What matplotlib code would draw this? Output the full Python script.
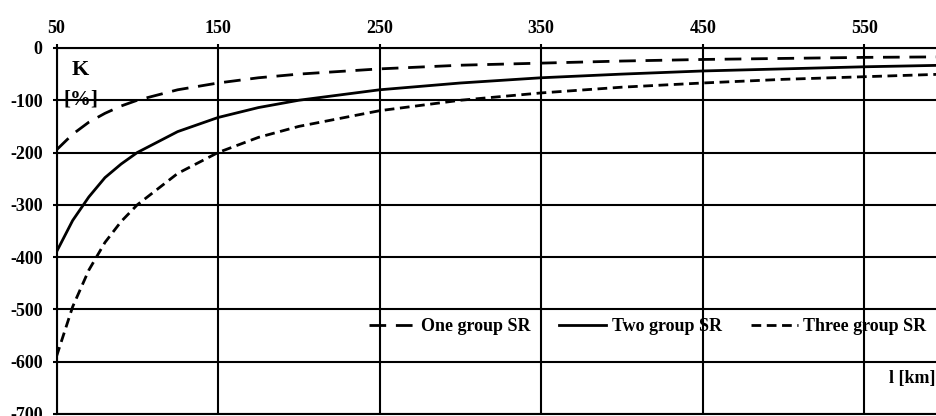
import matplotlib.pyplot as plt

# Values
l_km = [50, 60, 70, 80, 90, 100, 125, 150, 175, 200, 250, 300, 350, 400, 450, 500, 550, 600]
one_group = [-195, -165, -142, -125, -111, -100, -80, -67, -57, -50, -40, -33, -29, -25, -22, -20, -18, -17]
two_group = [-390, -330, -285, -248, -222, -200, -160, -133, -114, -100, -80, -67, -57, -50, -44, -40, -36, -33]
three_group = [-590, -495, -425, -372, -332, -300, -240, -200, -171, -150, -120, -100, -86, -75, -67, -60, -55, -50]

x_ticks = [50, 150, 250, 350, 450, 550]
y_ticks = [0, -100, -200, -300, -400, -500, -600, -700]

plt.rcParams['font.family'] = ['Liberation Serif', 'DejaVu Serif']
plt.rcParams['font.weight'] = 'bold'
plt.rcParams['axes.unicode_minus'] = False

fig = plt.figure(figsize=(9.37, 4.16), dpi=100)
ax = fig.add_axes([0.0603, 0.005, 0.9397, 0.8797])

ax.plot(l_km, one_group, color='black', lw=2, dashes=(6, 3.5), label='One group SR')
ax.plot(l_km, two_group, color='black', lw=2, label='Two group SR')
ax.plot(l_km, three_group, color='black', lw=2, dashes=(3.5, 2), label='Three group SR')

ax.set_xlim(50, 595)
ax.set_ylim(-700, 0)
ax.set_xticks(x_ticks)
ax.set_yticks(y_ticks)
ax.xaxis.tick_top()
ax.tick_params(axis='both', labelsize=13, length=3, width=1.5, color='black')
ax.tick_params(axis='x', pad=5)
ax.tick_params(axis='y', pad=7)
for lbl in ax.get_xticklabels() + ax.get_yticklabels():
    lbl.set_fontweight('bold')

ax.grid(True, color='black', lw=1.5)
ax.set_axisbelow(True)
for side in ['top', 'left', 'bottom']:
    ax.spines[side].set_linewidth(1.5)
ax.spines['right'].set_visible(False)

ax.text(0.0176, 0.926, 'K', transform=ax.transAxes, fontsize=16, fontweight='bold')
ax.text(0.0074, 0.845, '[%]', transform=ax.transAxes, fontsize=15, fontweight='bold')
ax.text(0.998, 0.085, 'l [km]', transform=ax.transAxes, fontsize=13,
        fontweight='bold', ha='right')

leg = ax.legend(loc='lower right', bbox_to_anchor=(1.0, 0.185), ncol=3, frameon=False,
                prop={'weight': 'bold', 'size': 13}, handlelength=2.6,
                columnspacing=1.6, handletextpad=0.3, borderaxespad=0.2)

plt.savefig('out.png', dpi=100)
plt.close()
